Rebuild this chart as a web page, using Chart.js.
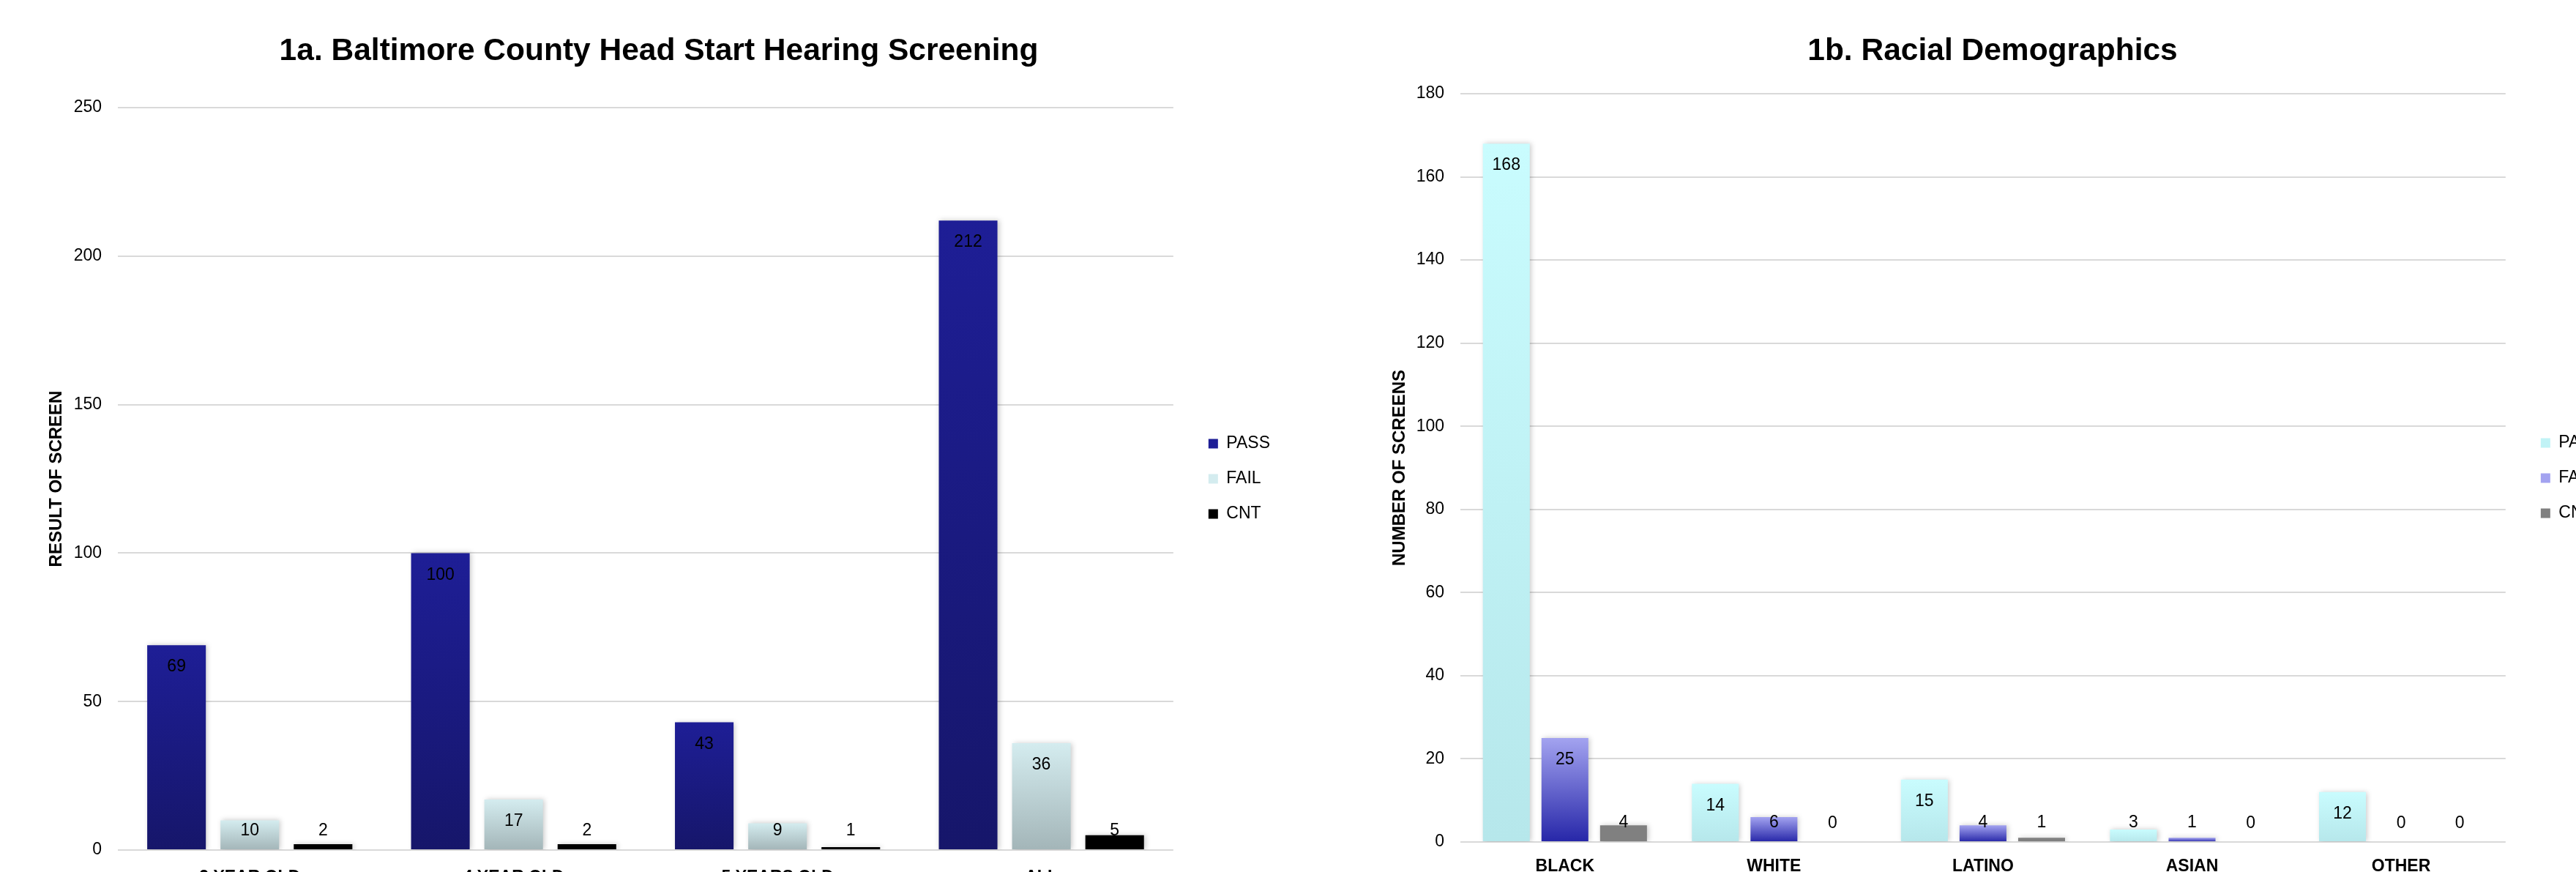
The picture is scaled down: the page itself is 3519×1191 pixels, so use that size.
<!DOCTYPE html>
<html>
<head>
<meta charset="utf-8">
<script src="https://cdn.jsdelivr.net/npm/chart.js@4.4.1/dist/chart.umd.min.js"></script>
<style>
  html, body { margin: 0; padding: 0; background: #fff; overflow: hidden; width: 3519px; height: 1191px; }
  canvas { position: absolute; top: 0; }
  #c1 { left: 0; }
  #c2 { left: 1800px; }
</style>
</head>
<body>
<canvas id="c1" width="1800" height="1230"></canvas>
<canvas id="c2" width="1844" height="1191"></canvas>
<script>
// ---- Data: chart 1a ----
const ageCategories = ["3 YEAR OLD", "4 YEAR OLD", "5 YEARS OLD", "ALL"];
const agePass = [69, 100, 43, 212];
const ageFail = [10, 17, 9, 36];
const ageCnt  = [2, 2, 1, 5];
const ageTicks = { min: 0, max: 250, step: 50 };

// ---- Data: chart 1b ----
const raceCategories = ["BLACK", "WHITE", "LATINO", "ASIAN", "OTHER"];
const racePass = [168, 14, 15, 3, 12];
const raceFail = [25, 6, 4, 1, 0];
const raceCnt  = [4, 0, 1, 0, 0];
const raceTicks = { min: 0, max: 180, step: 20 };

const seriesNames = ["PASS", "FAIL", "CNT"];

Chart.defaults.font.family = "'Liberation Sans', Arial, sans-serif";
Chart.defaults.color = "#000";

function barGradient(top, bottom, solid) {
  return function (ctx) {
    if (ctx.type !== 'data') return solid;
    const chart = ctx.chart;
    const ys = chart.scales.y;
    if (!ys) return solid;
    const v = ctx.parsed ? ctx.parsed.y : ctx.raw;
    const yTop = ys.getPixelForValue(v);
    const yBase = ys.getPixelForValue(0);
    if (!isFinite(yTop) || !isFinite(yBase) || Math.abs(yBase - yTop) < 1) return solid;
    const g = chart.ctx.createLinearGradient(0, yTop, 0, yBase);
    g.addColorStop(0, top);
    g.addColorStop(1, bottom);
    return g;
  };
}

const barEffects = {
  id: 'barEffects',
  beforeDraw(chart) {
    const lg = chart.legend;
    if (lg && chart.chartArea) {
      const o = chart.options.plugins.legendShift || {dx: 23, dy: 0};
      const w = lg.right - lg.left;
      lg.left = chart.chartArea.right + o.dx; lg.right = lg.left + w;
      lg.top = chart.chartArea.top + o.dy; lg.bottom = chart.chartArea.bottom + o.dy;
    }
  },
  beforeDatasetsDraw(chart) {
    const c = chart.ctx;
    c.save();
    c.shadowColor = 'rgba(0,0,0,0.22)';
    c.shadowBlur = 7;
    c.shadowOffsetX = 2;
    c.shadowOffsetY = 0;
  },
  afterDatasetsDraw(chart) {
    const c = chart.ctx;
    c.restore();
    c.save();
    c.font = "23px 'Liberation Sans', Arial, sans-serif";
    c.fillStyle = '#000';
    c.textAlign = 'center';
    c.textBaseline = 'middle';
    chart.data.datasets.forEach((ds, i) => {
      const meta = chart.getDatasetMeta(i);
      meta.data.forEach((el, j) => {
        const y = Math.min(el.y + 30, el.base - 25);
        c.fillText(String(ds.data[j]), el.x, y);
      });
    });
    c.restore();
  }
};

function makeChart(canvasId, cfg) {
  return new Chart(document.getElementById(canvasId), {
    type: 'bar',
    data: {
      labels: cfg.labels,
      datasets: cfg.datasets.map(d => Object.assign({
        categoryPercentage: cfg.catPct,
        barPercentage: 0.8,
        borderWidth: 0
      }, d))
    },
    options: {
      responsive: false,
      animation: false,
      devicePixelRatio: 1,
      layout: { padding: { left: cfg.padSide, top: 0, right: cfg.padSide, bottom: 0 } },
      plugins: {
        legendShift: { dx: 23, dy: cfg.legendDy },
        title: {
          display: true,
          text: cfg.title,
          color: '#000',
          font: { size: 42.5, weight: 'bold', lineHeight: 1.2 },
          padding: { top: 45, bottom: cfg.titleBottom }
        },
        legend: {
          display: true,
          position: 'right',
          labels: {
            boxWidth: 13,
            boxHeight: 13,
            padding: 25,
            color: '#000',
            font: { size: 23 }
          }
        },
        tooltip: { enabled: false }
      },
      scales: {
        x: {
          grid: { display: false },
          border: { display: false },
          ticks: { font: { size: 23, weight: 'bold' }, color: '#000', padding: cfg.xPad, maxRotation: 0 },
          afterFit(s) { s.height = cfg.xHeight; }
        },
        y: {
          min: cfg.ticks.min, max: cfg.ticks.max,
          grid: { color: '#d9d9d9', lineWidth: 2, drawTicks: false },
          border: { display: false },
          ticks: { stepSize: cfg.ticks.step, font: { size: 23 }, color: '#000', padding: 22 },
          title: {
            display: true, text: cfg.yTitle, color: '#000',
            font: { size: 24, weight: 'bold', lineHeight: 1.2 },
            padding: { top: cfg.yTitlePad, bottom: 0 }
          },
          afterFit(s) { s.width = cfg.yWidth; }
        }
      }
    },
    plugins: [barEffects]
  });
}

makeChart('c1', {
  labels: ageCategories,
  title: '1a. Baltimore County Head Start Hearing Screening',
  yTitle: 'RESULT OF SCREEN',
  ticks: ageTicks,
  catPct: 0.833,
  padSide: 78,
  titleBottom: 51,
  xHeight: 69,
  xPad: 16,
  yWidth: 83,
  yTitlePad: -15.4,
  legendDy: 0,
  datasets: [
    { label: seriesNames[0], data: agePass, backgroundColor: barGradient('#1e1e96', '#16166a', '#1e1e8c') },
    { label: seriesNames[1], data: ageFail, backgroundColor: barGradient('#d4ecef', '#a3b5b8', '#c4dadd') },
    { label: seriesNames[2], data: ageCnt,  backgroundColor: '#000000' }
  ]
});

makeChart('c2', {
  labels: raceCategories,
  title: '1b. Racial Demographics',
  yTitle: 'NUMBER OF SCREENS',
  ticks: raceTicks,
  catPct: 0.841,
  padSide: 102,
  titleBottom: 32,
  xHeight: 41,
  xPad: 12,
  yWidth: 93,
  yTitlePad: -4.4,
  legendDy: 14,
  datasets: [
    { label: seriesNames[0], data: racePass, backgroundColor: barGradient('#c9fcfe', '#b6e7eb', '#c4f4f7') },
    { label: seriesNames[1], data: raceFail, backgroundColor: barGradient('#a3a3f0', '#2626a8', '#6a6ad6') },
    { label: seriesNames[2], data: raceCnt,  backgroundColor: '#808080' }
  ]
});
</script>
</body>
</html>
